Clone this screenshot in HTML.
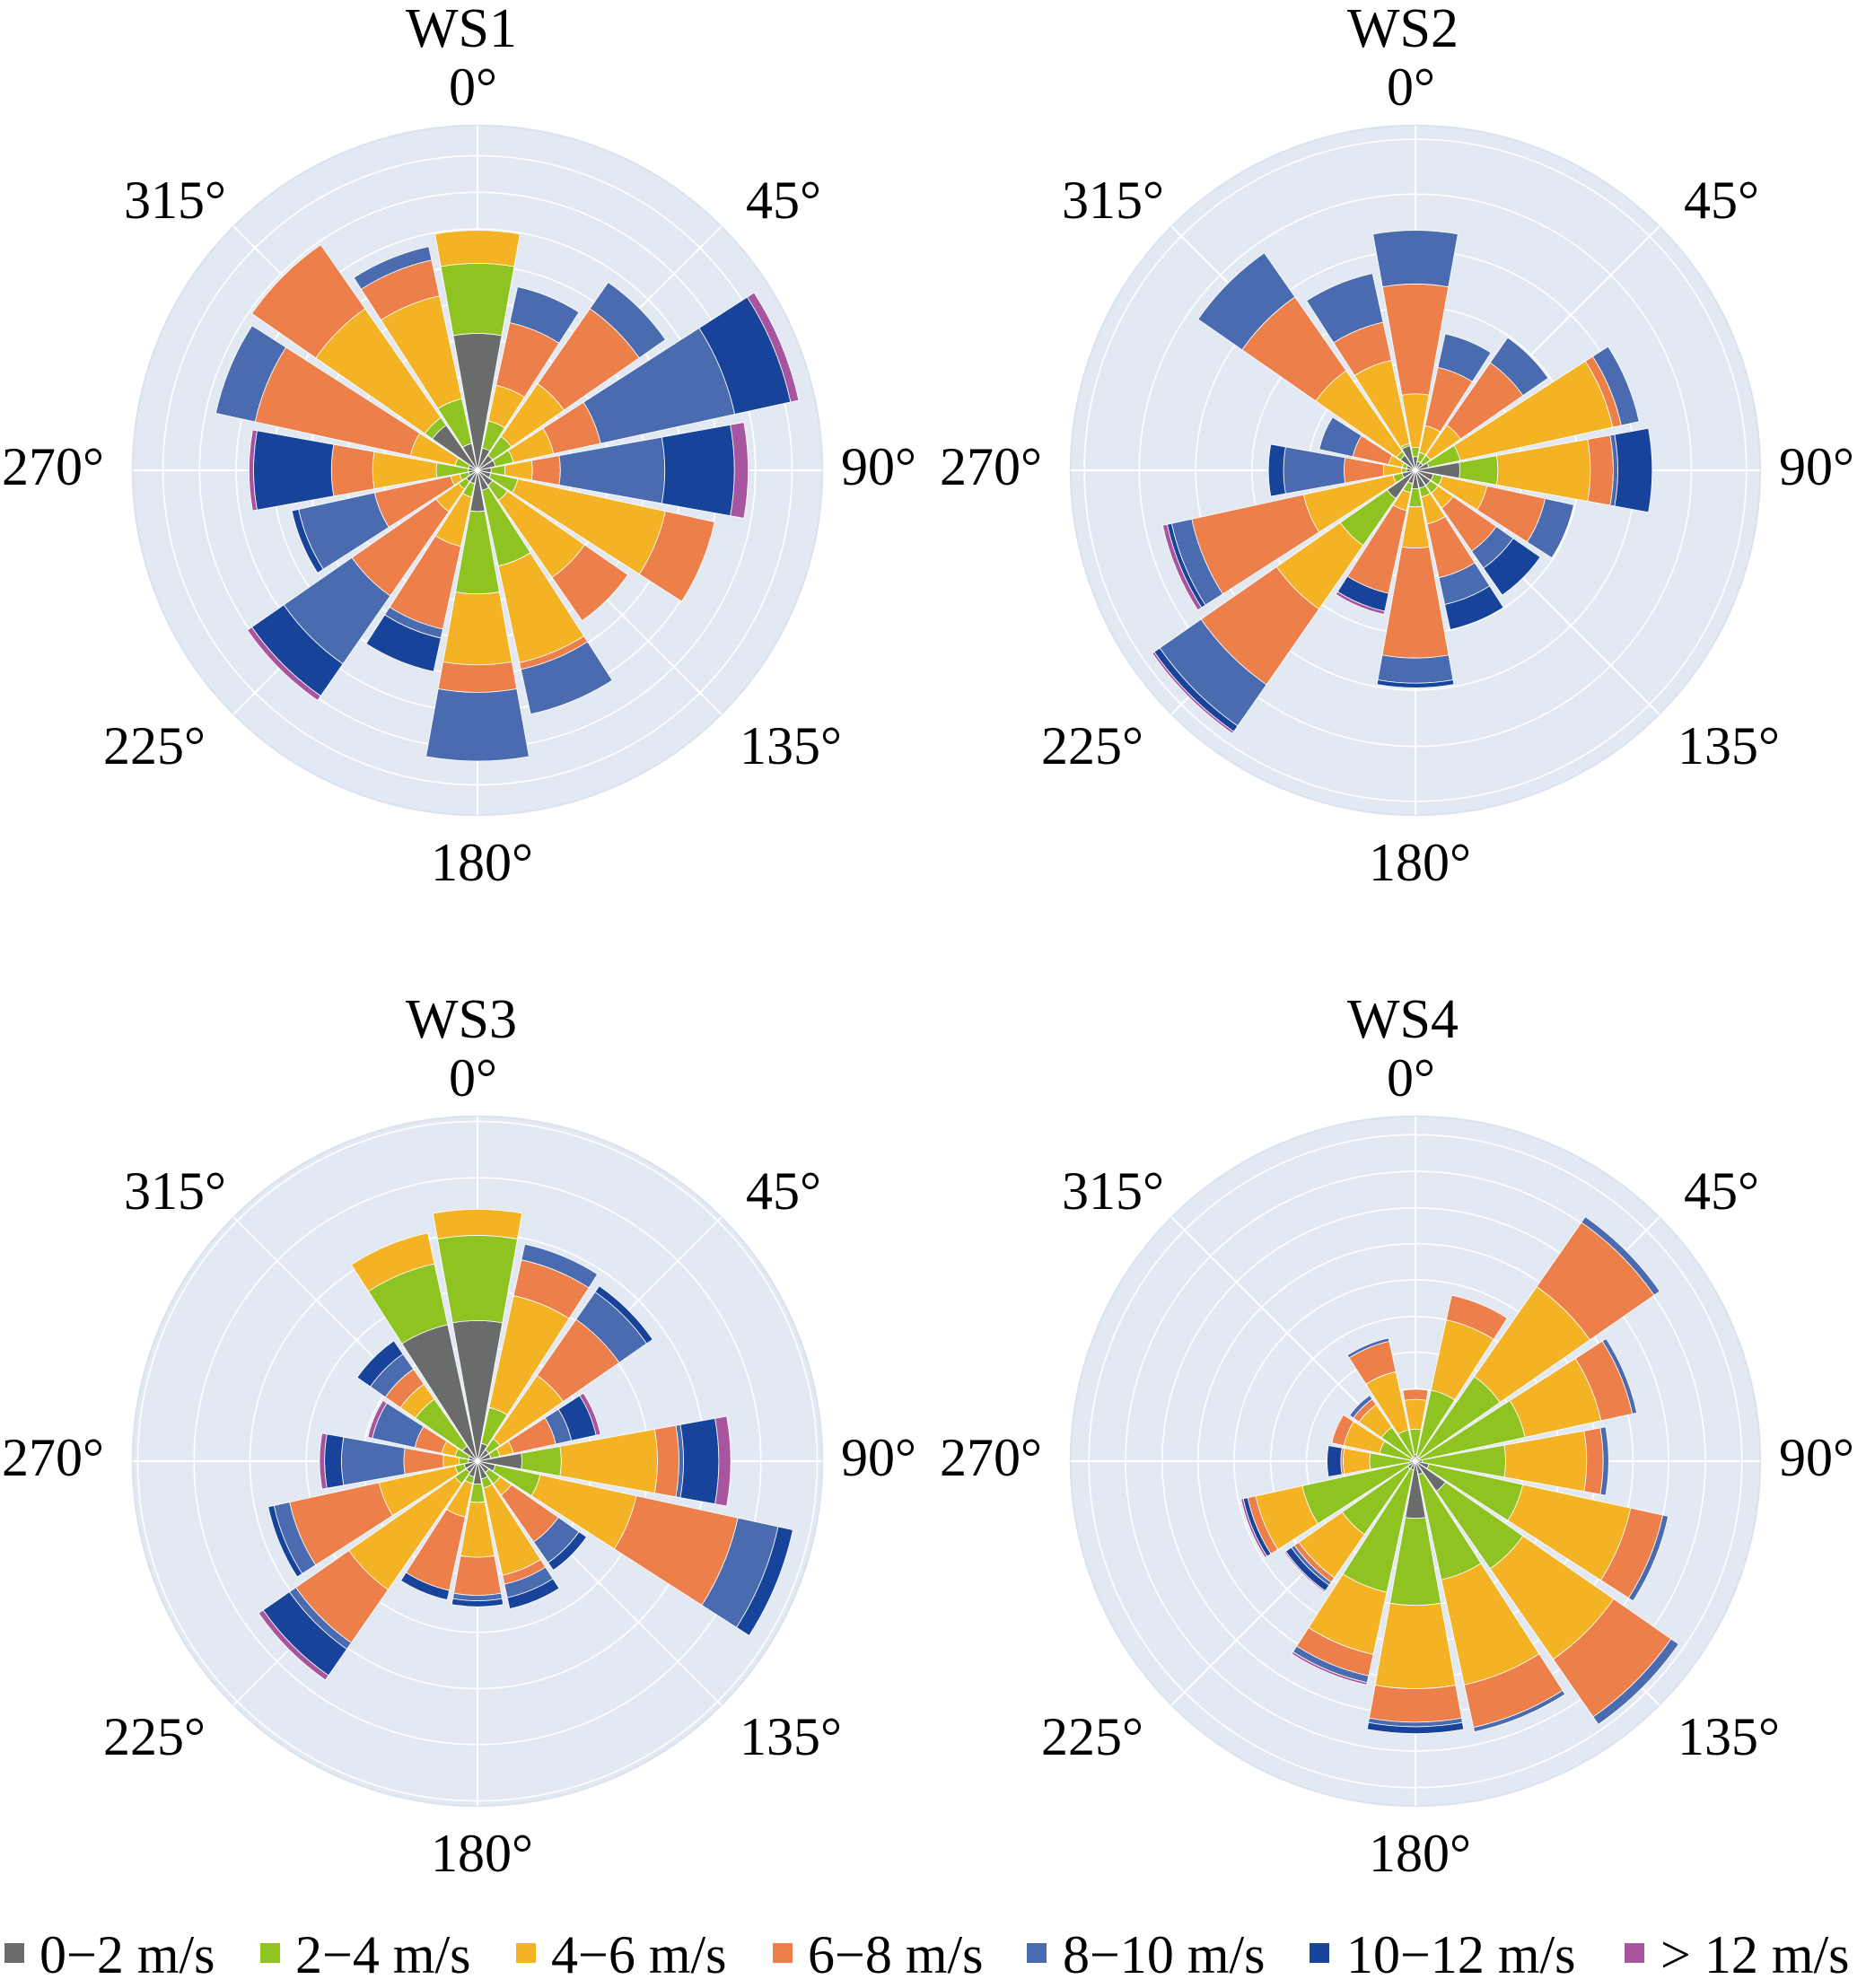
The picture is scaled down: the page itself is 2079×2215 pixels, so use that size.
<!DOCTYPE html>
<html><head><meta charset="utf-8">
<style>
html,body{margin:0;padding:0;background:#fff;}
svg{display:block;}
text{font-family:"Liberation Serif",serif;fill:#000;}
</style></head>
<body>
<svg id="s" width="2079" height="2215" viewBox="0 0 2079 2215" xmlns="http://www.w3.org/2000/svg">
<rect width="2079" height="2215" fill="#fff"/>
<g id="c1" transform="translate(532,524)"></g>
<g id="c2" transform="translate(1577,524)"></g>
<g id="c3" transform="translate(532,1628)"></g>
<g id="c4" transform="translate(1577,1628)"></g>

<g font-size="60" text-anchor="middle">
<g transform="translate(532,524)">
<text x="-18" y="-472" font-size="62">WS1</text>
<text x="-5" y="-407">0°</text><text x="341" y="-281">45°</text><text x="447" y="16">90°</text><text x="349" y="327">135°</text>
<text x="5" y="457">180°</text><text x="-360" y="327">225°</text><text x="-473" y="16">270°</text><text x="-337" y="-281">315°</text>
</g>
<g transform="translate(1577,524)">
<text x="-14" y="-472" font-size="62">WS2</text>
<text x="-5" y="-407">0°</text><text x="341" y="-281">45°</text><text x="447" y="16">90°</text><text x="349" y="327">135°</text>
<text x="5" y="457">180°</text><text x="-360" y="327">225°</text><text x="-473" y="16">270°</text><text x="-337" y="-281">315°</text>
</g>
<g transform="translate(532,1628)">
<text x="-18" y="-472" font-size="62">WS3</text>
<text x="-5" y="-407">0°</text><text x="341" y="-281">45°</text><text x="447" y="16">90°</text><text x="349" y="327">135°</text>
<text x="5" y="457">180°</text><text x="-360" y="327">225°</text><text x="-473" y="16">270°</text><text x="-337" y="-281">315°</text>
</g>
<g transform="translate(1577,1628)">
<text x="-14" y="-472" font-size="62">WS4</text>
<text x="-5" y="-407">0°</text><text x="341" y="-281">45°</text><text x="447" y="16">90°</text><text x="349" y="327">135°</text>
<text x="5" y="457">180°</text><text x="-360" y="327">225°</text><text x="-473" y="16">270°</text><text x="-337" y="-281">315°</text>
</g>
</g>

<g font-size="60">
<rect x="5" y="2165" width="22" height="22" fill="#6a6c6c"/><text x="44" y="2198">0−2 m/s</text>
<rect x="290" y="2165" width="22" height="22" fill="#8fc322"/><text x="329" y="2198">2−4 m/s</text>
<rect x="575" y="2165" width="22" height="22" fill="#f3b325"/><text x="614" y="2198">4−6 m/s</text>
<rect x="861" y="2165" width="22" height="22" fill="#ec7f4a"/><text x="900" y="2198">6−8 m/s</text>
<rect x="1144" y="2165" width="22" height="22" fill="#4a6baf"/><text x="1184" y="2198">8−10 m/s</text>
<rect x="1459" y="2165" width="22" height="22" fill="#17449a"/><text x="1500" y="2198">10−12 m/s</text>
<rect x="1810" y="2165" width="22" height="22" fill="#a855a0"/><text x="1850" y="2198">&gt; 12 m/s</text>
</g>
</svg>
<script>
var COLS=["#6a6c6c","#8fc322","#f3b325","#ec7f4a","#4a6baf","#17449a","#a855a0"];
var D={
c1:{rings:[687,607,527,447,367,287,207,127,47],d:[
[299,452,524,524,524,524,524],[50,110,190,330,410,410,410],[40,90,230,430,500,500,500],[40,80,170,275,575,700,718],
[30,60,120,181,409,561,591],[30,90,420,530,530,530,530],[40,80,285,400,400,400,400],[45,214,430,445,545,545,545],
[90,270,425,485,635,635,635],[30,60,170,355,375,450,450],[30,50,110,334,515,600,612],[20,40,60,230,400,415,415],
[20,90,229,319,319,489,499],[20,50,150,497,585,585,585],[120,140,430,600,600,600,600],[60,160,390,470,500,500,500]]},
c2:{rings:[723,603,480,357,234,111],d:[
[30,50,167,407,524,524,524],[20,40,100,230,305,305,305],[20,40,120,286,353,353,353],[30,100,441,460,500,500,500],
[97,180,382,432,442,517,517],[40,60,160,290,354,354,354],[40,60,100,215,260,332,332],[40,60,120,240,300,356,356],
[40,80,170,410,465,475,475],[30,50,90,275,275,315,322],[75,200,369,570,680,695,700],[30,50,250,500,545,555,565],
[20,30,70,156,288,321,321],[20,30,60,140,215,215,215],[40,50,265,461,578,578,578],[55,60,246,331,440,440,440]]},
c3:{rings:[742,619,497,374,250,127],d:[
[307,493,550,550,550,550,550],[40,120,370,450,485,485,485],[30,60,228,377,450,466,466],[30,50,80,175,210,265,275],
[97,183,393,440,450,527,553],[40,140,355,582,672,705,705],[30,60,90,215,270,290,290],[40,60,255,275,305,330,330],
[50,90,210,293,305,318,318],[35,50,125,289,289,310,310],[30,60,342,483,500,570,582],[30,50,220,420,455,468,468],
[20,40,75,161,297,334,345],[20,50,80,140,235,235,245],[40,165,205,245,285,320,320],[305,441,510,510,510,510,510]]},
c4:{rings:[713,633,553,475,396,316,238,158,78],d:[
[15,70,135,157,157,157,157],[10,159,316,371,371,371,371],[10,225,464,635,650,650,650],[10,245,415,485,495,495,495],
[15,197,374,410,422,422,422],[30,240,481,553,565,565,565],[80,286,527,680,700,700,700],[30,265,500,595,605,605,605],
[125,315,497,570,580,595,595],[20,293,432,480,495,495,500],[20,195,310,322,330,345,348],[15,253,357,375,375,385,390],
[10,100,158,163,163,193,193],[10,80,160,187,187,187,187],[10,90,150,165,175,175,175],[10,70,200,268,275,275,275]]}
};
var S=1/1.96, NS="http://www.w3.org/2000/svg";
function P(r,deg){var t=deg*Math.PI/180;return (r*Math.sin(t)*S).toFixed(2)+","+(-r*Math.cos(t)*S).toFixed(2);}
function el(n,a,p){var e=document.createElementNS(NS,n);for(var k in a)e.setAttribute(k,a[k]);p.appendChild(e);return e;}
for(var id in D){
 var g=document.getElementById(id),c=D[id];
 el("circle",{cx:0,cy:0,r:(753*S).toFixed(2),fill:"#e3e9f3",stroke:"#dae2ef","stroke-width":"2"},g);
 c.rings.forEach(function(r){el("circle",{cx:0,cy:0,r:(r*S).toFixed(2),fill:"none",stroke:"#fff","stroke-width":"1.6"},g);});
 for(var a=0;a<360;a+=45){el("line",{x1:0,y1:0,x2:P(753,a).split(",")[0],y2:P(753,a).split(",")[1],stroke:"#fff","stroke-width":"2"},g);}
 c.d.forEach(function(row,i){
  var ang=i*22.5,a1=ang-10.2,a2=ang+10.2,prev=0;
  row.forEach(function(r,j){
   if(r<=prev+0.5)return;
   var rs=(r*S).toFixed(2),r0s=(prev*S).toFixed(2),d;
   if(prev===0)d="M0,0 L"+P(r,a1)+" A"+rs+" "+rs+" 0 0 1 "+P(r,a2)+" Z";
   else d="M"+P(prev,a1)+" L"+P(r,a1)+" A"+rs+" "+rs+" 0 0 1 "+P(r,a2)+" L"+P(prev,a2)+" A"+r0s+" "+r0s+" 0 0 0 "+P(prev,a1)+" Z";
   el("path",{d:d,fill:COLS[j],stroke:"#fff","stroke-width":"0.8","stroke-linejoin":"miter"},g);
   prev=r;
  });
 });
}
</script>
</body></html>
